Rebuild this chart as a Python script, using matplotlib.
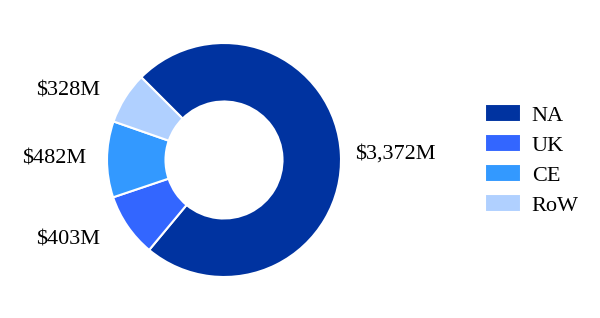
import matplotlib.pyplot as plt

# regional revenue split
regions = ['NA', 'UK', 'CE', 'RoW']
revenue = [3372, 403, 482, 328]
labels = [r'\$3,372M', r'\$403M', r'\$482M', r'\$328M']
colors = ['#0033A0', '#3366FF', '#3399FF', '#B0D0FF']

plt.rcParams['font.family'] = ['Liberation Serif', 'DejaVu Serif']

fig = plt.figure(figsize=(6, 3.18), dpi=100)
# pie centre ~ (224,160) px, radius ~117 px
ax = fig.add_axes([107/600, 41/318, 234/600, 234/318])

wedges, texts = ax.pie(revenue, labels=labels, colors=colors, startangle=135,
                       counterclock=False, labeldistance=1.18,
                       wedgeprops=dict(width=0.5, edgecolor='white', linewidth=1.5),
                       textprops=dict(fontsize=16))
# nudge labels a little to sit like the original
nudges = [(-0.06, 0.0), (-0.085, -0.015), (0.0, 0.0), (-0.06, -0.035)]
for t, (dx, dy) in zip(texts, nudges):
    x, y = t.get_position()
    t.set_position((x + dx, y + dy))

ax.set_xlim(-1, 1)
ax.set_ylim(-1, 1)
ax.set_aspect('equal')

fig.legend(wedges, regions, loc='upper left', bbox_to_anchor=(485/600, 1 - 104/318),
           frameon=False, fontsize=16, handlelength=1.6, handleheight=0.9,
           handletextpad=0.5, labelspacing=0.36, borderpad=0, borderaxespad=0)

plt.savefig('out.png', dpi=100)
